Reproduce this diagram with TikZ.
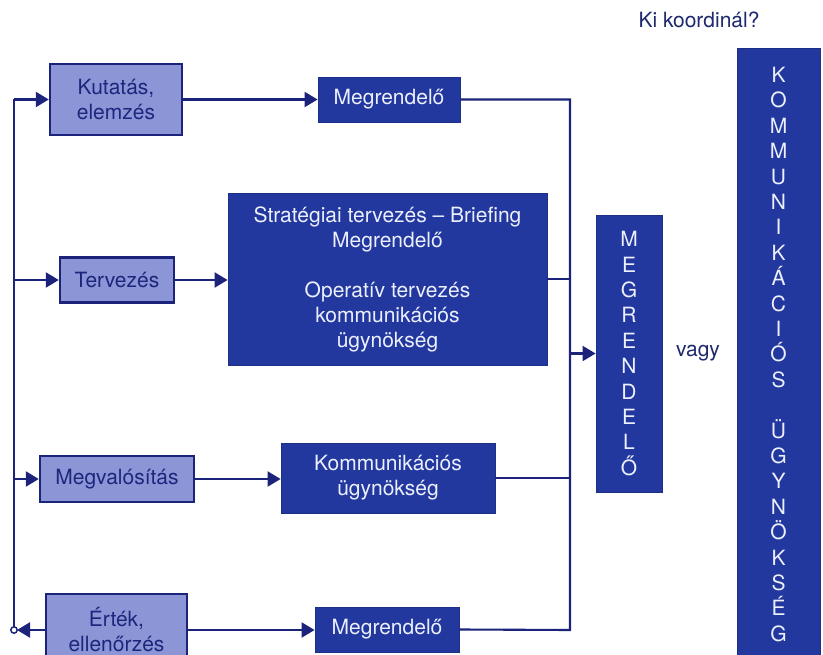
\documentclass[tikz,border=0pt]{standalone}
\usepackage{fontspec}
\setmainfont{TeX Gyre Heros}
\usetikzlibrary{arrows.meta}
\definecolor{navy}{RGB}{27,36,122}
\definecolor{darkbox}{RGB}{34,56,158}
\definecolor{lightbox}{RGB}{140,150,215}
\definecolor{navytext}{RGB}{28,38,125}
\definecolor{paletext}{RGB}{236,239,252}
\definecolor{plaintext}{RGB}{30,40,110}
\tikzset{
  boxfont/.style={font=\fontsize{21}{25}\selectfont},
  lightnode/.style={draw=navy, fill=lightbox, line width=2.4pt, text=navytext, boxfont, align=center, inner sep=0pt},
  darknode/.style={draw=darkbox!85!black, fill=darkbox, line width=0.8pt, text=paletext, boxfont, align=center, inner sep=0pt},
  colnode/.style={draw=darkbox!85!black, fill=darkbox, line width=0.8pt, text=paletext, font=\fontsize{21}{25.4}\selectfont, align=center, inner sep=0pt},
  conn/.style={draw=navy, line width=2.1pt},
  arr/.style={conn, -{Triangle[length=13pt,width=15pt]}},
}
\begin{document}
\begin{tikzpicture}[x=1pt,y=-1pt]
\useasboundingbox (0,0) rectangle (823,655);
\fill[white] (0,0) rectangle (823,655);

% left column boxes
\node[lightnode, minimum width=132pt, minimum height=71pt] (kut) at (116,99.5) {Kutatás,\\elemzés};
\node[lightnode, minimum width=114pt, minimum height=45pt] (terv) at (117,280) {Tervezés};
\node[lightnode, minimum width=154pt, minimum height=46pt] (megv) at (117,479) {Megvalósítás};
\node[lightnode, minimum width=141pt, minimum height=72pt] (ert) at (116.5,630) {Érték,\\ellenőrzés};

% middle boxes
\node[darknode, minimum width=142pt, minimum height=45pt] (megr1) at (389,99.5) {Megrendelő};
\node[darknode, minimum width=319pt, minimum height=172pt] (strat) at (387.5,279) {Stratégiai tervezés – Briefing\\Megrendelő\\[25pt]Operatív tervezés\\kommunikációs\\ügynökség};
\node[darknode, minimum width=214pt, minimum height=70pt] (komm) at (388,478) {Kommunikációs\\ügynökség};
\node[darknode, minimum width=144pt, minimum height=45pt] (megr2) at (387,629.5) {Megrendelő};

% right columns
\node[colnode, minimum width=66pt, minimum height=277pt] (megcol) at (629,353.5) {M\\E\\G\\R\\E\\N\\D\\E\\L\\Ő};
\node[colnode, minimum width=83pt, minimum height=612pt] (kcol) at (778.5,354.5) {K\\O\\M\\M\\U\\N\\I\\K\\Á\\C\\I\\Ó\\S\\ \\Ü\\G\\Y\\N\\Ö\\K\\S\\É\\G};

\node[text=plaintext, boxfont, inner sep=0pt] (vagy) at (698,353) {vagy};
\node[text=plaintext, boxfont, inner sep=0pt] (ki) at (699,20) {Ki koordinál?};

% left feedback line
\coordinate (ltop) at (14,99.5);
\coordinate (lbot) at (14,630);
\draw[conn] (lbot) -- (ltop);
\draw[arr] (ltop) -- (kut.west);
\draw[arr] (ltop |- terv.west) -- (terv.west);
\draw[arr] (ltop |- megv.west) -- (megv.west);
\draw[arr, shorten >=3pt] (ert.west) -- (lbot);
\draw[navy, line width=1.5pt, fill=white] (lbot) circle (3.2pt);

% horizontal flows
\draw[arr] (kut.east) -- (kut.east -| megr1.west);
\draw[arr] (terv.east) -- (terv.east -| strat.west);
\draw[arr] (megv.east) -- (megv.east -| komm.west);
\draw[arr] (ert.east) -- (ert.east -| megr2.west);

% right collector line
\coordinate (rtop) at (570,99.5);
\coordinate (rbot) at (570,630);
\draw[conn] (megr1.east) -- (rtop) -- (rbot) -- (megr2.east);
\draw[conn] (strat.east) -- (strat.east -| rtop);
\draw[conn] (komm.east) -- (komm.east -| rtop);
\draw[arr] (rtop |- megcol.west) -- (megcol.west);
\end{tikzpicture}
\end{document}
